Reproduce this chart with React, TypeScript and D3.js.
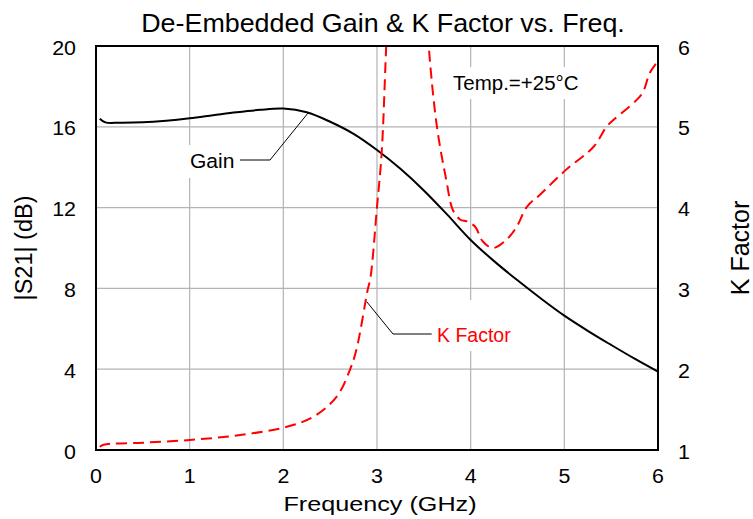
import React from "react";
import * as d3 from "d3";

// gain curve (GHz, dB)
const gainFreq = [0.04, 0.1, 0.25, 0.5, 0.75, 1, 1.25, 1.5, 1.75, 2, 2.25, 2.5, 2.75, 3, 3.25, 3.5, 3.75, 4, 4.25, 4.5, 4.75, 5, 5.25, 5.5, 5.75, 6];
const gainDb = [16.4, 16.22, 16.2, 16.22, 16.3, 16.42, 16.57, 16.72, 16.84, 16.9, 16.72, 16.25, 15.65, 14.85, 13.92, 12.85, 11.65, 10.4, 9.35, 8.4, 7.5, 6.65, 5.9, 5.2, 4.52, 3.88];

// K factor curve (GHz, K)
const kFreq = [0.04, 0.08, 0.5, 1, 1.5, 2, 2.32, 2.57, 2.71, 2.78, 2.9, 2.93, 3.0, 3.05, 3.1, 3.2, 3.3, 3.45, 3.55, 3.64, 3.74, 3.81, 3.89, 3.96, 4.05, 4.13, 4.24, 4.38, 4.49, 4.6, 4.74, 5.02, 5.31, 5.45, 5.52, 5.77, 5.84, 5.91, 5.98, 6];
const kVal = [1.04, 1.066, 1.09, 1.124, 1.18, 1.276, 1.41, 1.66, 1.99, 2.24, 2.98, 3.13, 4.01, 4.68, 6.04, 8.5, 10, 8, 6.03, 5.0, 4.34, 3.97, 3.85, 3.83, 3.76, 3.58, 3.5, 3.6, 3.76, 4.01, 4.16, 4.47, 4.75, 5.0, 5.08, 5.33, 5.43, 5.66, 5.79, 5.85];

const xTicks = [0, 1, 2, 3, 4, 5, 6];
const yLeftTicks = [0, 4, 8, 12, 16, 20];
const yRightTicks = [1, 2, 3, 4, 5, 6];

const W = 753;
const H = 519;
const margin = { left: 96, right: 95, top: 46, bottom: 69 };
const font = "'Liberation Sans', Arial, sans-serif";

const App = () => {
  const svgRef = React.useRef<SVGSVGElement>(null);

  React.useEffect(() => {
    const width = W - margin.left - margin.right;
    const height = H - margin.top - margin.bottom;
    const x = d3.scaleLinear().domain([0, 6]).range([0, width]);
    const yL = d3.scaleLinear().domain([0, 20]).range([height, 0]);
    const yR = d3.scaleLinear().domain([1, 6]).range([height, 0]);

    const svgEl = d3.select(svgRef.current);
    svgEl.selectAll("*").remove();
    svgEl.append("rect").attr("width", W).attr("height", H).attr("fill", "white");

    svgEl.append("defs").append("clipPath").attr("id", "plotclip")
      .append("rect").attr("width", width).attr("height", height);

    const svg = svgEl.append("g").attr("transform", `translate(${margin.left},${margin.top})`);

    // stretched text helper
    const label = (g: any, tx: number, ty: number, txt: string, size: number, sx = 1, anchor = "start", fill = "black") =>
      g.append("text")
        .attr("transform", `translate(${tx},${ty}) scale(${sx},1)`)
        .attr("text-anchor", anchor).attr("font-family", font).attr("font-size", size)
        .attr("fill", fill).text(txt);

    // grid
    svg.append("g").selectAll("line").data(xTicks.slice(1, -1)).enter().append("line")
      .attr("x1", (d) => x(d)).attr("x2", (d) => x(d)).attr("y1", 0).attr("y2", height)
      .attr("stroke", "#b3b3b3").attr("stroke-width", 1.2);
    svg.append("g").selectAll("line").data(yLeftTicks.slice(1, -1)).enter().append("line")
      .attr("y1", (d) => yL(d)).attr("y2", (d) => yL(d)).attr("x1", 0).attr("x2", width)
      .attr("stroke", "#b3b3b3").attr("stroke-width", 1.2);

    // white boxes behind labels (plot coords)
    const boxes = [
      [86, 99, 62, 33],
      [336, 254, 84, 51],
      [352, 21, 136, 32],
    ];
    boxes.forEach(([bx, by, bw, bh]) => {
      svg.append("rect").attr("x", bx).attr("y", by).attr("width", bw).attr("height", bh).attr("fill", "white");
    });

    // lines
    const plot = svg.append("g").attr("clip-path", "url(#plotclip)");
    const gainLine = d3.line<number>()
      .x((d, i) => x(gainFreq[i]))
      .y((d) => yL(d))
      .curve(d3.curveCatmullRom.alpha(0.5));
    plot.append("path").attr("d", gainLine(gainDb)).attr("fill", "none")
      .attr("stroke", "black").attr("stroke-width", 2);
    const kLine = d3.line<number>()
      .x((d, i) => x(kFreq[i]))
      .y((d) => yR(d))
      .curve(d3.curveCatmullRom.alpha(0.5));
    plot.append("path").attr("d", kLine(kVal)).attr("fill", "none")
      .attr("stroke", "#ff0000").attr("stroke-width", 2).attr("stroke-dasharray", "11,6");

    // frame
    svg.append("rect").attr("width", width).attr("height", height).attr("fill", "none")
      .attr("stroke", "black").attr("stroke-width", 2);

    // tick labels
    xTicks.forEach((d) => label(svg, x(d), height + 33, String(d), 20, 1.07, "middle"));
    yLeftTicks.forEach((d) => label(svg, -20, yL(d) + 8.5, String(d), 20, 1.07, "end"));
    yRightTicks.forEach((d) => label(svg, width + 20, yR(d) + 8.5, String(d), 20, 1.07, "start"));

    // annotations
    label(svg, 94, 122, "Gain", 19.5, 1.08);
    svg.append("path")
      .attr("d", `M144,114H174L212.3,66.7`)
      .attr("fill", "none").attr("stroke", "black").attr("stroke-width", 1);
    label(svg, 341, 296, "K Factor", 19.5, 1.0, "start", "#ff0000");
    svg.append("path")
      .attr("d", `M335.7,288H297L270.7,255.7`)
      .attr("fill", "none").attr("stroke", "black").attr("stroke-width", 1);
    label(svg, 357, 44, "Temp.=+25°C", 20.5, 1.0);

    // titles
    label(svgEl, 383, 32, "De-Embedded Gain & K Factor vs. Freq.", 25, 1.075, "middle");
    label(svgEl, 380, 511, "Frequency (GHz)", 21, 1.2, "middle");
    svgEl.append("text").attr("transform", `translate(32,${margin.top + height / 2}) rotate(-90)`)
      .attr("text-anchor", "middle").attr("font-family", font).attr("font-size", 23.5).text("|S21| (dB)");
    svgEl.append("text").attr("transform", `translate(749,${margin.top + height / 2}) rotate(-90)`)
      .attr("text-anchor", "middle").attr("font-family", font).attr("font-size", 25).text("K Factor");
  }, []);

  return (
    <svg ref={svgRef} width={W} height={H} style={{ position: "absolute", left: 0, top: 0 }} />
  );
};

export default App;
